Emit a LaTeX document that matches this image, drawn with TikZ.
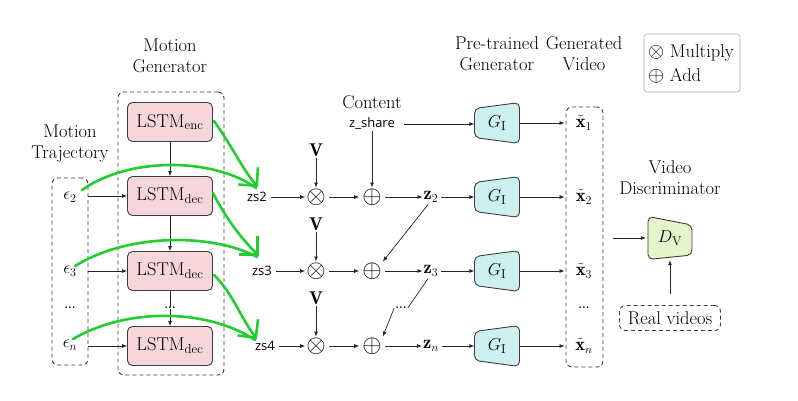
\documentclass[tikz,border=0pt]{standalone}
\usepackage{fontspec}
\newfontfamily\sansf{Open Sans}
\usetikzlibrary{arrows.meta,calc}
\definecolor{lstmfill}{RGB}{246,214,219}
\definecolor{genfill}{RGB}{204,240,240}
\definecolor{disfill}{RGB}{228,245,204}
\definecolor{handgreen}{RGB}{34,206,46}
\definecolor{edgegray}{RGB}{60,60,60}
\begin{document}
\begin{tikzpicture}[x=1pt,y=-1pt,
  font=\fontsize{18.5}{21}\selectfont,
  arr/.style={-{Latex[length=5pt,width=4pt]}, line width=0.7pt, draw=black!85},
  plainline/.style={line width=0.7pt, draw=black!85},
  lstm/.style={draw=edgegray, line width=0.9pt, fill=lstmfill, rounded corners=5pt, minimum width=85pt, minimum height=39pt, inner sep=0pt},
  dbox/.style={draw=edgegray, dash pattern=on 4pt off 3pt, line width=0.9pt, rounded corners=6pt, inner sep=0pt},
  lab/.style={align=center, inner sep=0pt},
  sanslab/.style={font=\sansf\fontsize{13}{15}\selectfont, inner sep=1pt},
  opnode/.style={inner sep=1pt, font=\fontsize{24}{24}\selectfont},
  dotsnode/.style={inner sep=1pt, font=\bfseries\fontsize{12}{12}\selectfont},
  hand/.style={draw=handgreen, line width=2.6pt, line cap=round, line join=round},
  handtip/.style={hand, -{Straight Barb[length=13pt,width=26pt]}},
  gen/.pic={\draw[line width=0.9pt, draw=edgegray, fill=genfill, rounded corners=5pt]
     (-22.5,-14.5) -- (22.5,-20.5) -- (22.5,20.5) -- (-22.5,14.5) -- cycle;},
  disc/.pic={\draw[line width=0.9pt, draw=edgegray, fill=disfill, rounded corners=5pt]
     (-22,-21.5) -- (22,-13) -- (22,17) -- (-22,21.5) -- cycle;}
]
\useasboundingbox (0,0) rectangle (798,400);

% titles
\node[lab] (tgen) at (170,56) {Motion\\Generator};
\node[lab] (ttraj) at (70,144) {Motion\\Trajectory};
\node[lab] (tcont) at (372,102) {Content};
\node[lab] (tpre) at (497,54) {Pre-trained\\Generator};
\node[lab] (tvid) at (584,54) {Generated\\Video};
\node[lab] (tdis) at (670,178) {Video\\Discriminator};

% legend
\node[draw=gray!70, rounded corners=3pt, line width=0.6pt, minimum width=96pt, minimum height=58pt] (legend) at (692,63) {};
\node[anchor=west, inner sep=0pt] (lmul) at (648,53) {{\fontsize{21}{21}\selectfont$\otimes$} Multiply};
\node[anchor=west, inner sep=0pt] (ladd) at (648,76) {{\fontsize{21}{21}\selectfont$\oplus$} Add};

% motion trajectory
\node[dbox, minimum width=36pt, minimum height=187pt] (traj) at (70,271.5) {};
\node (e2) at (70,197) {$\epsilon_2$};
\node (e3) at (70,271) {$\epsilon_3$};
\node[dotsnode] (edots) at (70,308) {...};
\node (en) at (70,345) {$\epsilon_n$};

% motion generator
\node[dbox, minimum width=106pt, minimum height=283pt] (mgen) at (171,233.5) {};
\node[lstm] (enc) at (170,122) {LSTM$_{\mathrm{enc}}$};
\node[lstm] (dec1) at (170,196) {LSTM$_{\mathrm{dec}}$};
\node[lstm] (dec2) at (170,271) {LSTM$_{\mathrm{dec}}$};
\node[dotsnode, inner sep=0pt] (ldots) at (170,308) {...};
\node[lstm] (dec3) at (170,346) {LSTM$_{\mathrm{dec}}$};

\draw[arr] (enc.south) -- (dec1.north);
\draw[arr] (dec1.south) -- (dec2.north);
\draw[plainline] (dec2.south) -- (ldots.north);
\draw[arr] (ldots.south) -- (dec3.north);
\draw[arr] (traj.east |- dec1.west) -- (dec1.west);
\draw[arr] (traj.east |- dec2.west) -- (dec2.west);
\draw[arr] (traj.east |- dec3.west) -- (dec3.west);

% zs labels
\node[sanslab] (zs2) at (257,197) {zs2};
\node[sanslab] (zs3) at (262,271) {zs3};
\node[sanslab] (zs4) at (265,346) {zs4};

% multiply / add
\node[opnode] (m2) at (316,197) {$\otimes$};
\node[opnode] (m3) at (316,271) {$\otimes$};
\node[opnode] (m4) at (316,346) {$\otimes$};
\node[inner sep=1pt] (v2) at (316,150) {$\mathbf{V}$};
\node[inner sep=1pt] (v3) at (316,224) {$\mathbf{V}$};
\node[inner sep=1pt] (v4) at (316,298) {$\mathbf{V}$};
\node[opnode] (a2) at (372,197) {$\oplus$};
\node[opnode] (a3) at (372,271) {$\oplus$};
\node[opnode] (a4) at (372,346) {$\oplus$};
\node[sanslab] (zshare) at (372,124) {z\_share};

\foreach \i in {2,3,4}{
  \draw[arr, shorten <=3pt] (zs\i.east) -- (m\i.west);
  \draw[arr] (v\i.south) -- (m\i.north);
  \draw[arr, shorten <=2pt, shorten >=2pt] (m\i.east) -- (a\i.west);
}
\draw[arr] (zshare.south) -- (a2.north);

% latent codes
\node[inner sep=1pt] (z2) at (431,197) {$\mathbf{z}_2$};
\node[inner sep=1pt] (z3) at (431,271) {$\mathbf{z}_3$};
\node[inner sep=1pt] (zn) at (431,346) {$\mathbf{z}_n$};
\node[dotsnode, inner sep=0pt] (zdots) at (401,308) {...};
\draw[arr, shorten <=2pt] (a2.east) -- (z2.west);
\draw[arr, shorten <=2pt] (a3.east) -- (z3.west);
\draw[arr, shorten <=2pt] (a4.east) -- (zn.west);
\draw[arr] ([shift={(-3pt,-1pt)}]z2.south) -- (a3.north east);
\draw[plainline] ([shift={(-3pt,-1pt)}]z3.south) -- ([shift={(1pt,-1pt)}]zdots.north east);
\draw[arr] ([shift={(-1pt,1pt)}]zdots.south west) -- (a4.north east);

% generators
\foreach \y/\n in {123/g1,197/g2,271/g3,346/g4}{
  \pic at (497,\y) {gen};
  \node[minimum width=45pt, minimum height=41pt, inner sep=0pt] (\n) at (497,\y) {$G_{\mathrm{I}}$};
}
\draw[arr, shorten <=8pt] (zshare.east) -- (zshare.east -| g1.west);
\draw[arr, shorten <=2pt] (z2.east) -- (g2.west);
\draw[arr, shorten <=2pt] (z3.east) -- (g3.west);
\draw[arr, shorten <=2pt] (zn.east) -- (g4.west);

% generated video
\node[dbox, minimum width=37pt, minimum height=260pt] (xbox) at (584.5,237) {};
\node (x1) at (584,123) {$\tilde{\mathbf{x}}_1$};
\node (x2) at (584,197) {$\tilde{\mathbf{x}}_2$};
\node (x3) at (584,271) {$\tilde{\mathbf{x}}_3$};
\node[dotsnode] (xdots) at (584,308) {...};
\node (xn) at (584,346) {$\tilde{\mathbf{x}}_n$};
\foreach \i/\x in {1/x1,2/x2,3/x3,4/xn}{
  \draw[arr, shorten >=1pt] (g\i.east) -- (xbox.west |- \x);
}

% discriminator
\pic at (670,238) {disc};
\node[minimum width=44pt, minimum height=40pt, inner sep=0pt] (dv) at (670,238) {$D_{\mathrm{V}}$};
\draw[arr, shorten <=10pt, shorten >=2pt] (xbox.east |- dv.west) -- (dv.west);
\node[dbox, minimum width=101pt, minimum height=25pt] (real) at (670,318) {Real videos};
\draw[arr, shorten <=11pt, shorten >=2pt] (real.north) -- (dv.south);

% hand-drawn green annotations
\coordinate (t2) at (258,187);
\coordinate (t3) at (259,256);
\coordinate (t4) at (257,339);
\draw[handtip] ([shift={(1pt,1pt)}]enc.east) .. controls (232,146) and (243,170) .. (t2);
\draw[hand] (82,190) .. controls (130,156) and (215,158) .. ([shift={(-2pt,-1pt)}]t2);
\draw[handtip] ([shift={(0pt,3pt)}]dec1.east) .. controls (228,222) and (243,240) .. (t3);
\draw[hand] (75,266) .. controls (130,232) and (215,234) .. ([shift={(-2pt,-1pt)}]t3);
\draw[handtip] ([shift={(1pt,-4pt)}]dec2.east) .. controls (232,292) and (242,320) .. (t4);
\draw[hand] (73,339) .. controls (130,306) and (210,310) .. ([shift={(-2pt,-1pt)}]t4);
\end{tikzpicture}
\end{document}
